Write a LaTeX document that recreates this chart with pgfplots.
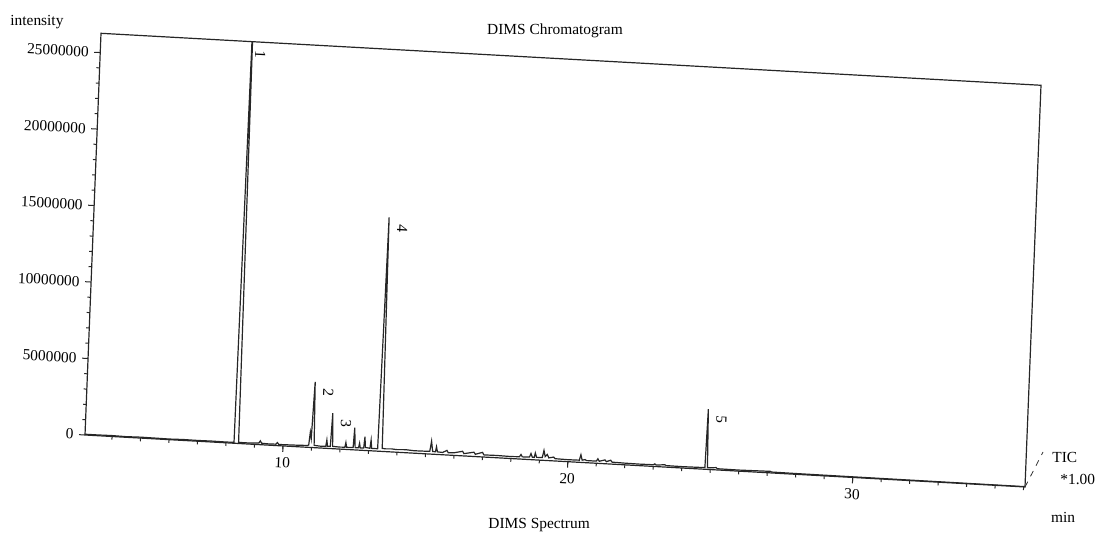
\documentclass[border=0pt]{standalone}
\usepackage{fontspec}
\setmainfont{Liberation Serif}
\usepackage{pgfplots}
\pgfplotsset{compat=1.18}
\begin{document}
\fontsize{7.7}{9}\selectfont
\begin{tikzpicture}[x=1pt,y=1pt]
\begin{scope}[cm={0.9985,-0.0552,0.0398,0.9992,(42.5pt,49.5pt)}, transform shape]
\begin{axis}[
  at={(0,0)}, anchor=south west,
  scale only axis, width=470.7pt, height=201pt,
  xmin=3.05, xmax=36.05, ymin=0, ymax=26260000,
  axis line style={line width=0.6pt, black!85},
  xtick={10,20,30}, minor xtick={4,...,36},
  ytick={0,5000000,10000000,15000000,20000000,25000000},
  minor y tick num=4,
  xtick pos=bottom, ytick pos=left,
  tick align=outside,
  major tick length=3pt, minor tick length=1.6pt,
  every tick/.style={black!85, line width=0.5pt},
  scaled y ticks=false,
  yticklabel style={/pgf/number format/fixed, /pgf/number format/1000 sep={}, font=\fontsize{7.7}{9}\selectfont},
  xticklabel style={font=\fontsize{7.7}{9}\selectfont},
  /pgf/number format/assume math mode=true,
  clip=true,
]
\addplot[black!85, line width=0.6pt] coordinates {
(3.05,50000) (3.5,50000) (4.0,60000) (4.5,40000) (5.0,60000) (5.5,50000)
(6.0,40000) (6.5,60000) (7.0,50000) (7.5,60000) (8.0,50000) (8.28,60000)
(8.36,30000000) (8.44,80000) (8.6,70000) (8.8,70000) (9.0,90000)
(9.15,100000) (9.2,250000) (9.25,100000) (9.5,80000) (9.75,90000) (9.8,200000) (9.85,80000)
(10.2,90000) (10.5,100000) (10.85,120000) (10.90,150000) (10.94,1000000)
(10.98,600000) (11.04,4300000) (11.09,150000) (11.3,120000) (11.50,130000)
(11.53,550000) (11.56,130000) (11.66,150000) (11.70,2320000) (11.74,150000)
(12.0,130000) (12.17,140000) (12.2,450000) (12.23,140000) (12.46,150000)
(12.49,1450000) (12.53,150000) (12.65,150000) (12.68,450000) (12.71,150000)
(12.83,150000) (12.86,900000) (12.89,200000) (13.05,160000) (13.08,700000)
(13.11,160000) (13.32,160000) (13.40,15300000) (13.48,200000) (13.6,180000)
(13.8,200000) (14.0,170000) (14.3,200000) (14.6,160000) (15.0,170000)
(15.15,180000) (15.2,850000) (15.25,180000) (15.35,170000) (15.38,500000)
(15.42,170000) (15.6,150000) (15.75,300000) (15.8,150000) (16.0,170000)
(16.3,300000) (16.35,150000) (16.7,280000) (16.75,150000) (17.0,300000)
(17.05,140000) (17.5,150000) (18.0,130000) (18.3,150000) (18.35,300000)
(18.4,150000) (18.65,160000) (18.7,400000) (18.75,160000) (18.82,160000)
(18.85,450000) (18.9,170000) (19.1,180000) (19.15,650000) (19.2,250000)
(19.27,400000) (19.33,180000) (19.5,250000) (19.55,150000) (20.0,130000)
(20.4,140000) (20.45,500000) (20.5,150000) (20.6,200000) (20.65,140000)
(21.0,140000) (21.05,300000) (21.1,140000) (21.3,250000) (21.35,140000)
(21.5,250000) (21.55,130000) (22.0,110000) (22.5,100000) (23.0,110000)
(23.05,170000) (23.1,100000) (23.4,150000) (23.45,100000) (24.0,90000)
(24.5,100000) (24.81,110000) (24.85,3940000) (24.90,100000) (25.2,150000)
(25.25,80000) (26.0,70000) (27.1,100000) (27.15,60000) (28.0,50000)
(30.0,40000) (33.0,30000) (36.05,20000)
};
\node[rotate=-90, anchor=south west, inner sep=1pt, xshift=2pt] at (axis cs:8.40,26100000) {1};
\node[rotate=-90, anchor=south west, inner sep=1pt, xshift=2pt, yshift=3pt] at (axis cs:11.04,4300000) {2};
\node[rotate=-90, anchor=south west, inner sep=1pt, xshift=2pt, yshift=3pt] at (axis cs:11.70,2320000) {3};
\node[rotate=-90, anchor=south west, inner sep=1pt, xshift=2pt, yshift=3pt] at (axis cs:13.40,15300000) {4};
\node[rotate=-90, anchor=south west, inner sep=1pt, xshift=2pt, yshift=3pt] at (axis cs:24.85,3940000) {5};
\end{axis}
\end{scope}
\node[anchor=west, inner sep=0pt] at (5,256) {intensity};
\node[inner sep=0pt] at (277.5,251.5) {DIMS Chromatogram};
\draw[dashed, black!80, line width=0.4pt] (512.5,23.5) -- (521.5,41);
\node[anchor=west, inner sep=0pt] at (526,38.5) {TIC};
\node[anchor=west, inner sep=0pt] at (530,27.5) {*1.00};
\node[inner sep=0pt] at (531.5,8.5) {min};
\node[anchor=south west, inner sep=0pt] at (244,1) {DIMS Spectrum};
\pgfresetboundingbox
\useasboundingbox (0,0) rectangle (548,267);
\end{tikzpicture}
\end{document}
